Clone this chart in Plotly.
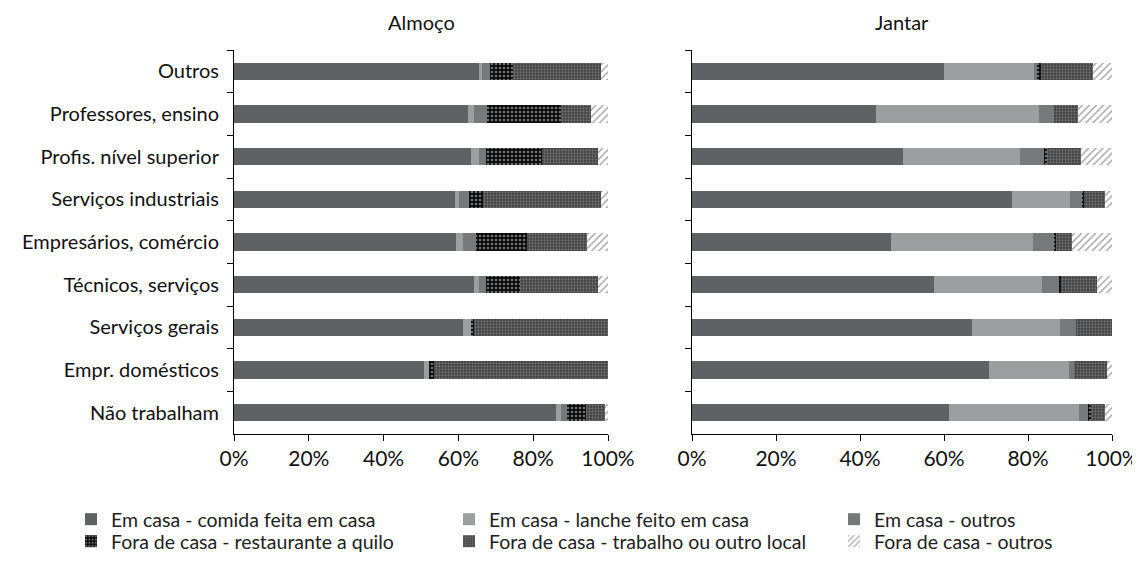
import plotly.graph_objects as go

categories = ["Outros", "Professores, ensino", "Profis. nível superior", "Serviços industriais",
              "Empresários, comércio", "Técnicos, serviços", "Serviços gerais",
              "Empr. domésticos", "Não trabalham"]

series_names = ["Em casa - comida feita em casa", "Em casa - lanche feito em casa", "Em casa - outros",
                "Fora de casa - restaurante a quilo", "Fora de casa - trabalho ou outro local",
                "Fora de casa - outros"]

# Almoço (lunch) values, %
almoco_comida = [65.4, 62.6, 63.3, 59.2, 59.4, 64.2, 61.3, 50.8, 86.0]
almoco_lanche = [1.0, 1.6, 2.2, 0.9, 1.8, 1.3, 2.2, 1.3, 1.3]
almoco_outros_casa = [2.0, 3.4, 1.8, 2.7, 3.4, 1.8, 0.0, 0.0, 1.8]
almoco_restaurante = [6.3, 19.8, 15.0, 3.8, 13.7, 9.2, 0.6, 1.3, 5.1]
almoco_trabalho = [23.3, 8.1, 15.0, 31.6, 16.2, 20.8, 35.9, 46.6, 5.0]
almoco_outros_fora = [2.0, 4.5, 2.7, 1.8, 5.5, 2.7, 0.0, 0.0, 0.8]

# Jantar (dinner) values, %
jantar_comida = [59.9, 43.9, 50.2, 76.1, 47.3, 57.5, 66.7, 70.7, 61.3]
jantar_lanche = [21.6, 38.6, 28.0, 13.9, 34.0, 25.8, 20.9, 19.0, 30.9]
jantar_outros_casa = [0.6, 3.8, 5.5, 2.8, 5.0, 4.0, 3.8, 1.2, 2.2]
jantar_restaurante = [1.1, 0.0, 0.8, 0.5, 0.4, 0.6, 0.0, 0.0, 0.6]
jantar_trabalho = [12.3, 5.6, 8.1, 5.1, 3.7, 8.5, 8.6, 7.9, 3.3]
jantar_outros_fora = [4.5, 8.1, 7.4, 1.6, 9.6, 3.6, 0.0, 1.2, 1.7]

x_ticks = [0, 20, 40, 60, 80, 100]
x_tick_labels = ["0%", "20%", "40%", "60%", "80%", "100%"]

almoco = [almoco_comida, almoco_lanche, almoco_outros_casa, almoco_restaurante, almoco_trabalho, almoco_outros_fora]
jantar = [jantar_comida, jantar_lanche, jantar_outros_casa, jantar_restaurante, jantar_trabalho, jantar_outros_fora]

styles = [
    dict(color="#606165"),
    dict(color="#9d9e9f"),
    dict(color="#77787a"),
    dict(color="#111111", pattern=dict(shape=".", bgcolor="#0a0a0a", fgcolor="#d8d8d8", size=4, solidity=0.35)),
    dict(color="#454545", pattern=dict(shape=".", bgcolor="#3c3c3c", fgcolor="#a8a8a8", size=3, solidity=0.45)),
    dict(color="#ffffff", pattern=dict(shape="/", bgcolor="#ffffff", fgcolor="#555555", size=5, solidity=0.3)),
]

legend_ids = ["legend", "legend2", "legend3", "legend4", "legend5", "legend6"]

fig = go.Figure()
for i, name in enumerate(series_names):
    for data, xa, ya, show in [(almoco, "x", "y", True), (jantar, "x2", "y2", False)]:
        st = styles[i]
        marker = dict(color=st["color"], line=dict(width=0))
        if "pattern" in st:
            marker["pattern"] = st["pattern"]
        fig.add_trace(go.Bar(
            y=categories, x=data[i], orientation="h", name=name,
            marker=marker, width=0.4, xaxis=xa, yaxis=ya,
            showlegend=show, legendgroup=name, legend=legend_ids[i],
        ))

# The page body adds an 8px offset; figure coordinates below are screen positions minus 8
W, H = 1132, 560
OFF = 8

font_family = "Lato, 'Open Sans', sans-serif"
xaxis_common = dict(range=[0, 100], tickmode="array", tickvals=x_ticks, ticktext=x_tick_labels,
                    showline=True, linecolor="#000", automargin=False,
                    linewidth=1, ticks="outside", ticklen=6, tickcolor="#000", showgrid=False, zeroline=False,
                    tickfont=dict(size=21, color="#111"), fixedrange=True)
yaxis_common = dict(categoryorder="array", categoryarray=categories, autorange="reversed", showline=True,
                    linecolor="#000", linewidth=1, ticks="outside", tickson="boundaries", ticklen=6,
                    automargin=False, tickcolor="#000", showgrid=False, tickfont=dict(size=20, color="#111"))

left_px = (234 - OFF, 608 - OFF)
right_px = (692 - OFF, 1112 - OFF)

# legend placement (figure coords): three columns, two rows
col_x = [63, 441, 826]
row_y = [492, 514]
legend_layout = {}
for i, lid in enumerate(legend_ids):
    legend_layout[lid] = dict(
        orientation="h", xref="container", yref="container",
        x=col_x[i % 3] / W, xanchor="left",
        y=1 - row_y[i // 3] / H, yanchor="top",
        font=dict(size=19.5, color="#222"), bgcolor="rgba(0,0,0,0)",
        itemsizing="constant",
    )

fig.update_layout(
    width=W, height=H,
    barmode="stack",
    paper_bgcolor="white", plot_bgcolor="white",
    font=dict(family=font_family, color="#111"),
    margin=dict(l=0, r=0, t=50 - OFF, b=H - (434 - OFF), autoexpand=False),
    xaxis=dict(domain=[left_px[0] / W, left_px[1] / W], anchor="y", **xaxis_common),
    xaxis2=dict(domain=[right_px[0] / W, right_px[1] / W], anchor="y2", **xaxis_common),
    yaxis=dict(anchor="x", ticklabelstandoff=10, **yaxis_common),
    yaxis2=dict(anchor="x2", showticklabels=False, **yaxis_common),
    annotations=[
        dict(text="Almoço", x=sum(left_px) / 2 / W, y=1, xref="paper", yref="paper", yshift=28,
             showarrow=False, font=dict(size=20, color="#111"), xanchor="center", yanchor="middle"),
        dict(text="Jantar", x=sum(right_px) / 2 / W, y=1, xref="paper", yref="paper", yshift=28,
             showarrow=False, font=dict(size=20, color="#111"), xanchor="center", yanchor="middle"),
    ],
    **legend_layout,
)

fig.write_html("out.html")
